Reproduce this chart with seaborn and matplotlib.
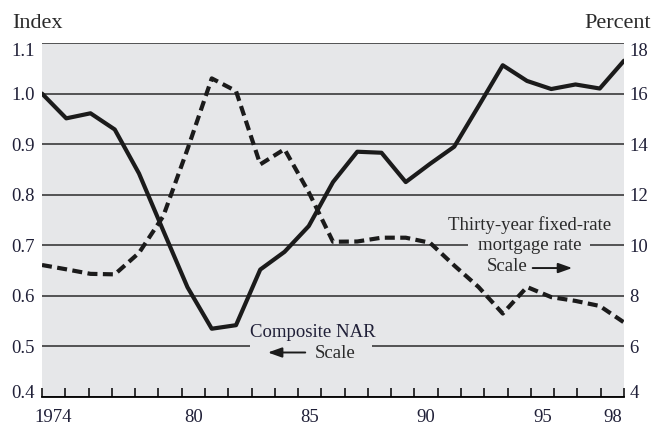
import numpy as np
import pandas as pd
import matplotlib
matplotlib.use("Agg")
import matplotlib.pyplot as plt
import matplotlib.transforms as mtransforms
from matplotlib.patches import Rectangle
import seaborn as sns

# Data (annual, 1974-1998)
years = list(range(1974, 1999))
nar_index = [1.000, 0.951, 0.961, 0.929, 0.842, 0.729, 0.617, 0.535, 0.542, 0.652,
             0.687, 0.738, 0.825, 0.885, 0.883, 0.825, 0.861, 0.895, 0.975, 1.056,
             1.025, 1.009, 1.018, 1.010, 1.065]
mortgage_rate = [9.22, 9.05, 8.87, 8.85, 9.70, 11.15, 13.80, 16.60, 16.10, 13.20,
                 13.80, 12.10, 10.14, 10.15, 10.30, 10.30, 10.10, 9.20, 8.35, 7.30,
                 8.35, 7.95, 7.80, 7.60, 6.95]
x_labels = ["1974", "80", "85", "90", "95", "98"]
x_label_slots = [0, 6, 11, 16, 21, 24]
left_ticks = [0.4, 0.5, 0.6, 0.7, 0.8, 0.9, 1.0, 1.1]
right_ticks = [4, 6, 8, 10, 12, 14, 16, 18]

df = pd.DataFrame({"year": years, "nar": nar_index, "rate": mortgage_rate})

sns.set_theme(style="white")
plt.rcParams["font.family"] = ["Liberation Serif", "DejaVu Serif"]

bg = "#e6e7e9"
ink = "#1b1b1b"
txt = "#202038"

fig = plt.figure(figsize=(6.52, 4.26), dpi=100)
ax = fig.add_axes([42 / 652, 29 / 426, 582 / 652, 354 / 426])
ax.set_facecolor(bg)
ax.set_axisbelow(True)

sns.lineplot(data=df, x="year", y="nar", ax=ax, color=ink, lw=3.0, zorder=3)
ax.set_xlim(1974, 1998)
ax.set_ylim(0.4, 1.1)
ax.set_yticks(left_ticks)
ax.set_yticklabels([f"{v:.1f}" for v in left_ticks])
ax.grid(axis="y", color="#2b2b2b", lw=1.1)
ax.grid(axis="x", visible=False)
for s in ["left", "right", "top"]:
    ax.spines[s].set_visible(False)
ax.spines["bottom"].set_color("black")
ax.spines["bottom"].set_linewidth(1.3)
ax.spines["bottom"].set_zorder(5)

# tick marks: 25 equal intervals along the bottom, labels centred in year slots
step = 24 / 25
tick_pos = [1974 + k * step for k in range(26)]
ax.set_xticks([1974 + (k + 0.5) * step for k in x_label_slots])
ax.set_xticklabels(x_labels)
ax.tick_params(axis="x", length=0, pad=9, labelsize=13.5, labelcolor=txt)
ax.vlines(tick_pos, 0, 0.025, transform=ax.get_xaxis_transform(),
          colors="black", lw=1.1, zorder=5, clip_on=False)
ax.tick_params(axis="y", length=0, pad=5, labelsize=13.5, labelcolor=txt)
ax.set_xlabel("")
ax.set_ylabel("")

ax2 = ax.twinx()
sns.lineplot(data=df, x="year", y="rate", ax=ax2, color=ink, lw=3.0,
             linestyle=(0, (2.4, 1.3)), zorder=3)
ax2.set_ylim(4, 18)
ax2.set_yticks(right_ticks)
ax2.tick_params(axis="y", length=0, pad=4, labelsize=13.5, labelcolor=txt)
ax2.set_ylabel("")
ax2.grid(False)
for s in ax2.spines.values():
    s.set_visible(False)

# nudge end labels inward like the original
dn = mtransforms.ScaledTranslation(0, -5 / 72, fig.dpi_scale_trans)
up = mtransforms.ScaledTranslation(0, 4 / 72, fig.dpi_scale_trans)
for a in (ax, ax2):
    labs = a.get_yticklabels()
    labs[0].set_transform(labs[0].get_transform() + up)
    labs[-1].set_transform(labs[-1].get_transform() + dn)

# gaps in the gridlines behind the annotations
ax.add_patch(Rectangle((1982.58, 0.49), 5.03, 0.02, facecolor=bg, edgecolor="none", zorder=1))
ax.add_patch(Rectangle((1991.57, 0.69), 5.03, 0.02, facecolor=bg, edgecolor="none", zorder=1))

ax.text(1985.18, 0.528, "Composite NAR", ha="center", va="center", fontsize=13.5, color=txt)
ax.text(1986.1, 0.486, "Scale", ha="center", va="center", fontsize=13.5, color="#2a2a2a")
ax.annotate("", xy=(1983.2, 0.488), xytext=(1984.97, 0.488),
            arrowprops=dict(arrowstyle="-|>,head_length=0.7,head_width=0.25", color=ink, lw=1.4))

ax2.text(1994.12, 10.80, "Thirty-year fixed-rate", ha="center", va="center", fontsize=13.5, color="#2a2a2a")
ax2.text(1994.12, 10.01, "mortgage rate", ha="center", va="center", fontsize=13.5, color="#2a2a2a")
ax2.text(1993.18, 9.18, "Scale", ha="center", va="center", fontsize=13.5, color="#2a2a2a")
ax2.annotate("", xy=(1995.98, 9.1), xytext=(1994.12, 9.1),
             arrowprops=dict(arrowstyle="-|>,head_length=0.7,head_width=0.25", color=ink, lw=1.4))

fig.text(12 / 652, 1 - 28 / 426, "Index", ha="left", va="baseline", fontsize=16, color="#2a2a2a")
fig.text(651 / 652, 1 - 28 / 426, "Percent", ha="right", va="baseline", fontsize=16, color="#2a2a2a")

fig.savefig("out.png", dpi=100, facecolor="white")
